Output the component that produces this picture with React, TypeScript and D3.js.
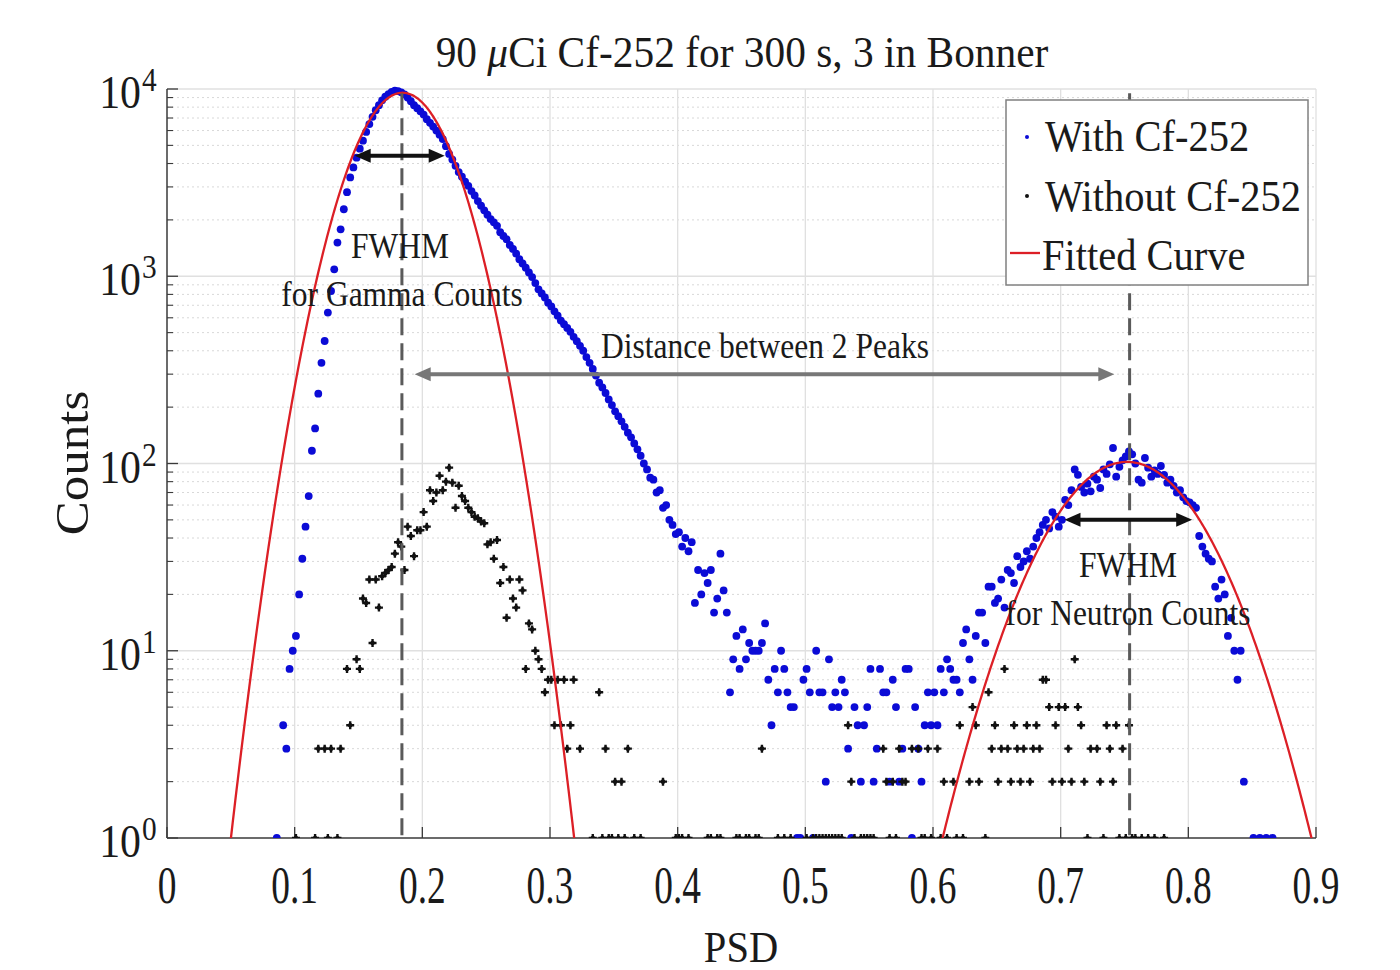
import React from 'react';
import * as d3 from 'd3';

// ---------------- data ----------------
const TITLE_PREFIX = '90 ';
const TITLE_MU = 'μ';
const TITLE_REST = 'Ci Cf-252 for 300 s, 3 in Bonner';
const X_LABEL = 'PSD';
const Y_LABEL = 'Counts';

const X_TICKS = [0, 0.1, 0.2, 0.3, 0.4, 0.5, 0.6, 0.7, 0.8, 0.9];
const X_TICK_LABELS = ['0', '0.1', '0.2', '0.3', '0.4', '0.5', '0.6', '0.7', '0.8', '0.9'];
const Y_TICKS = [1, 10, 100, 1000, 10000];
const Y_TICK_EXPONENTS = ['0', '1', '2', '3', '4'];

// PSD histogram bins: centre = BIN_START + BIN_STEP * binIndex
const BIN_START = 0.001;
const BIN_STEP = 0.0025;

// "With Cf-252" counts, starting at bin 34 (0 = empty bin, not drawn on log axis)
const WITH_CF_FIRST_BIN = 34;
const withCfCounts = [
  1, 0, 4, 3, 8, 10, 12, 20, 31, 46,
  67, 117, 154, 236, 345, 451, 640, 834, 1089, 1513,
  1780, 2279, 2812, 3373, 3813, 4300, 4800, 5300, 5900, 6500,
  7100, 7700, 8200, 8700, 9100, 9400, 9650, 9800, 9750, 9600,
  9350, 9000, 8600, 8200, 7900, 7600, 7300, 6900, 6600, 6300,
  6000, 5700, 5400, 4950, 4500, 4200, 3890, 3600, 3400, 3200,
  3040, 2850, 2700, 2520, 2380, 2250, 2130, 2020, 1940, 1860,
  1720, 1640, 1577, 1470, 1400, 1320, 1233, 1170, 1110, 1047,
  990, 920, 852, 810, 770, 723, 690, 650, 616, 580,
  555, 530, 505, 475, 450, 425, 400, 370, 345, 320,
  295, 270, 255, 238, 220, 205, 190, 179, 168, 157,
  146, 138, 128, 119, 110, 100, 93, 84, 82, 70,
  72, 58, 60, 50, 47, 42, 43, 36, 40, 34,
  38, 18, 27, 20, 26, 23, 27, 16, 19, 33,
  21, 16, 6, 9, 12, 8, 13, 9, 11, 10,
  10, 10, 11, 14, 7, 4, 8, 6, 10, 8,
  6, 5, 5, 1, 1, 7, 8, 6, 1, 10,
  6, 6, 2, 9, 5, 6, 5, 7, 6, 3,
  1, 5, 4, 2, 4, 5, 8, 2, 3, 8,
  6, 6, 2, 7, 5, 2, 3, 8, 8, 1,
  5, 3, 2, 4, 6, 4, 6, 4, 8, 6,
  9, 8, 7, 7, 6, 11, 13, 9, 7, 12,
  16, 16, 11, 22, 22, 18, 19, 24, 17, 27,
  26, 23, 32, 28, 30, 34, 31, 36, 40, 43,
  47, 50, 45, 55, 52, 46, 50, 64, 60, 72,
  93, 87, 75, 70, 78, 71, 85, 82, 74, 93,
  88, 99, 121, 85, 96, 104, 109, 116, 112, 100,
  82, 79, 107, 95, 85, 92, 88, 97, 87, 79,
  82, 76, 70, 72, 66, 63, 62, 60, 58, 41,
  36, 33, 31, 30, 22, 19, 24, 20, 12, 15,
  10, 7, 10, 2, 0, 0, 1, 0, 1, 0,
  1, 0, 1,
];

// "Without Cf-252" counts, starting at bin 40
const WITHOUT_CF_FIRST_BIN = 40;
const withoutCfCounts = [
  1, 0, 0, 0, 0, 0, 1, 3, 0, 3,
  1, 3, 0, 1, 3, 0, 8, 4, 0, 9,
  8, 19, 18, 24, 11, 24, 17, 25, 26, 27,
  28, 33, 38, 36, 27, 46, 41, 32, 44, 44,
  55, 46, 72, 63, 70, 86, 72, 80, 95, 79,
  58, 76, 67, 63, 58, 55, 52, 51, 49, 48,
  37, 38, 31, 39, 23, 28, 15, 24, 19, 17,
  24, 21, 8, 14, 13, 10, 9, 8, 6, 7,
  7, 4, 7, 4, 7, 3, 4, 7, 0, 3,
  0, 0, 0, 1, 0, 6, 1, 3, 1, 1,
  2, 1, 2, 1, 3, 0, 1, 0, 1, 0,
  0, 0, 0, 0, 0, 2, 0, 0, 0, 1,
  1, 1, 0, 1, 0, 0, 0, 0, 0, 1,
  1, 0, 1, 1, 0, 0, 0, 0, 1, 1,
  0, 1, 1, 0, 1, 1, 3, 0, 0, 0,
  0, 1, 0, 1, 0, 1, 0, 0, 0, 0,
  1, 0, 1, 1, 1, 1, 1, 1, 1, 1,
  1, 1, 0, 4, 2, 1, 0, 1, 1, 1,
  1, 1, 0, 0, 3, 2, 1, 2, 1, 3,
  2, 2, 0, 3, 0, 3, 1, 1, 3, 1,
  0, 3, 1, 2, 1, 0, 2, 1, 4, 1,
  0, 2, 5, 4, 2, 0, 1, 6, 3, 4,
  2, 3, 8, 3, 2, 4, 3, 2, 3, 4,
  2, 3, 4, 3, 7, 7, 5, 2, 4, 5,
  2, 5, 3, 2, 9, 5, 4, 2, 1, 3,
  0, 3, 2, 1, 4, 3, 2, 4, 1, 3,
  1, 4, 1, 1, 0, 1, 0, 1, 0, 1,
  0, 0, 1,
];

// Gaussian fits (fitted curve): amplitude, mean, sigma
const FIT_AMPLITUDES = [9550, 102];
const FIT_MEANS = [0.1845, 0.752];
const FIT_SIGMAS = [0.0314, 0.0475];

// annotations (data coordinates)
const PEAK_LINES_PSD = [0.184, 0.754];
const PEAK_LINE_TOP = 9500;
const GAMMA_FWHM = { from: 0.147, to: 0.2175, count: 4400 };
const NEUTRON_FWHM = { from: 0.703, to: 0.803, count: 50 };
const PEAK_DISTANCE = { from: 0.194, to: 0.742, count: 300 };

const LEGEND_LABELS = ['With Cf-252', 'Without Cf-252', 'Fitted Curve'];

// ---------------- drawing ----------------
const W = 1400;
const H = 970;
const PL = 167;
const PR = 1316;
const PT = 89;
const PB = 838;

const FONT = "'Liberation Serif','Times New Roman',Times,serif";
const BLUE = '#0b0bd6';
const RED = '#dc1f26';
const TEXT = '#1a1a1a';

const x = d3.scaleLinear().domain([0, 0.9]).range([PL, PR]);
const y = d3.scaleLog().domain([1, 10000]).range([PB, PT]);

function ST(props: any) {
  const { x: tx, y: ty, fs, sx = 0.9, anchor = 'middle', fill = TEXT, rotate, children } = props;
  const tr = `translate(${tx},${ty}) scale(${sx},1)` + (rotate ? ` rotate(${rotate})` : '');
  return (
    <text transform={tr} fontSize={fs} textAnchor={anchor} fontFamily={FONT} fill={fill}>
      {children}
    </text>
  );
}

function Arrow(props: any) {
  const { x1, x2, yy, color, width = 4, head = 16, hw = 7 } = props;
  return (
    <g>
      <line x1={x1 + head - 2} x2={x2 - head + 2} y1={yy} y2={yy} stroke={color} strokeWidth={width} />
      <polygon points={`${x1},${yy} ${x1 + head},${yy - hw} ${x1 + head},${yy + hw}`} fill={color} />
      <polygon points={`${x2},${yy} ${x2 - head},${yy - hw} ${x2 - head},${yy + hw}`} fill={color} />
    </g>
  );
}

function toPoints(first: number, counts: number[]) {
  const pts: { psd: number; c: number }[] = [];
  counts.forEach((c, i) => {
    if (c > 0) pts.push({ psd: BIN_START + BIN_STEP * (first + i), c });
  });
  return pts;
}

export default function App() {
  const bluePts = toPoints(WITH_CF_FIRST_BIN, withCfCounts);
  const blackPts = toPoints(WITHOUT_CF_FIRST_BIN, withoutCfCounts);

  const fitPaths = FIT_AMPLITUDES.map((amp, i) => {
    const mu = FIT_MEANS[i];
    const s = FIT_SIGMAS[i];
    const xs = d3.range(mu - 0.17, mu + 0.17, 0.001);
    const line = d3
      .line<number>()
      .x((p) => x(p))
      .y((p) => y(Math.max(0.3, amp * Math.exp(-((p - mu) ** 2) / (2 * s * s)))));
    return line(xs) as string;
  });

  const minorY: number[] = [];
  [1, 10, 100, 1000].forEach((d) => {
    for (let m = 2; m <= 9; m++) minorY.push(d * m);
  });

  return (
    <svg width={W} height={H} style={{ position: 'absolute', left: 0, top: 0, background: '#fff' }}>
      <defs>
        <clipPath id="plotClip">
          <rect x={PL} y={PT - 6} width={PR - PL} height={PB - PT + 6} />
        </clipPath>
      </defs>
      <rect x={0} y={0} width={W} height={H} fill="#fff" />

      {/* grid */}
      {minorY.map((v) => (
        <line key={'my' + v} x1={PL} x2={PR} y1={y(v)} y2={y(v)} stroke="#d8d8d8" strokeWidth={1} strokeDasharray="2 3" />
      ))}
      {Y_TICKS.slice(1).map((v) => (
        <line key={'gy' + v} x1={PL} x2={PR} y1={y(v)} y2={y(v)} stroke="#e0e0e0" strokeWidth={1.3} />
      ))}
      {X_TICKS.slice(1).map((v) => (
        <line key={'gx' + v} x1={x(v)} x2={x(v)} y1={PT} y2={PB} stroke="#e0e0e0" strokeWidth={1.3} />
      ))}

      {/* axes */}
      <line x1={PL} x2={PL} y1={PT} y2={PB} stroke="#3a3a3a" strokeWidth={1.5} />
      <line x1={PL} x2={PR} y1={PB} y2={PB} stroke="#3a3a3a" strokeWidth={1.5} />
      {Y_TICKS.map((v) => (
        <line key={'ty' + v} x1={PL} x2={PL + 11} y1={y(v)} y2={y(v)} stroke="#3a3a3a" strokeWidth={1.3} />
      ))}
      {minorY.map((v) => (
        <line key={'tmy' + v} x1={PL} x2={PL + 6} y1={y(v)} y2={y(v)} stroke="#3a3a3a" strokeWidth={1.1} />
      ))}
      {X_TICKS.map((v) => (
        <line key={'tx' + v} x1={x(v)} x2={x(v)} y1={PB} y2={PB - 11} stroke="#3a3a3a" strokeWidth={1.3} />
      ))}

      {/* tick labels */}
      {X_TICKS.map((v, i) => (
        <ST key={'lx' + v} x={x(v)} y={903} fs={52} sx={0.72}>
          {X_TICK_LABELS[i]}
        </ST>
      ))}
      {Y_TICKS.map((v, i) => (
        <g key={'ly' + v}>
          <ST x={141} y={y(v) + 19} fs={47} sx={0.89} anchor="end">
            10
          </ST>
          <ST x={142} y={y(v) + 2} fs={33} sx={0.89} anchor="start">
            {Y_TICK_EXPONENTS[i]}
          </ST>
        </g>
      ))}

      {/* axis labels and title */}
      <ST x={741} y={962} fs={45} sx={0.9}>
        {X_LABEL}
      </ST>
      <ST x={88} y={463} fs={51} sx={0.9} rotate={-90}>
        {Y_LABEL}
      </ST>
      <text transform={`translate(742,67) scale(0.92,1)`} fontSize={45} textAnchor="middle" fontFamily={FONT} fill={TEXT}>
        {TITLE_PREFIX}
        <tspan fontStyle="italic">{TITLE_MU}</tspan>
        {TITLE_REST}
      </text>

      {/* data */}
      <g clipPath="url(#plotClip)">
        {bluePts.map((p, i) => (
          <circle key={'b' + i} cx={x(p.psd)} cy={y(p.c)} r={3.9} fill={BLUE} />
        ))}
        {blackPts.map((p, i) => (
          <g key={'k' + i} transform={`translate(${x(p.psd)},${y(p.c)})`}>
            <path d="M-4,0H4M0,-4V4" stroke="#111" strokeWidth={2.4} />
            <circle r={2.3} fill="#111" />
          </g>
        ))}
        {fitPaths.map((d, i) => (
          <path key={'f' + i} d={d} fill="none" stroke={RED} strokeWidth={2.3} />
        ))}
      </g>

      {/* annotations */}
      {PEAK_LINES_PSD.map((p) => (
        <line key={'pl' + p} x1={x(p)} x2={x(p)} y1={y(PEAK_LINE_TOP)} y2={PB} stroke="#5a5a5a" strokeWidth={3} strokeDasharray="17 8" />
      ))}
      <Arrow x1={x(GAMMA_FWHM.from)} x2={x(GAMMA_FWHM.to)} yy={y(GAMMA_FWHM.count)} color="#111" />
      <Arrow x1={x(NEUTRON_FWHM.from)} x2={x(NEUTRON_FWHM.to)} yy={y(NEUTRON_FWHM.count)} color="#111" />
      <Arrow x1={x(PEAK_DISTANCE.from)} x2={x(PEAK_DISTANCE.to)} yy={y(PEAK_DISTANCE.count)} color="#777" />

      <ST x={400} y={258} fs={35}>FWHM</ST>
      <ST x={402} y={306} fs={35}>for Gamma Counts</ST>
      <ST x={765} y={358} fs={35}>Distance between 2 Peaks</ST>
      <ST x={1128} y={577} fs={35}>FWHM</ST>
      <ST x={1128} y={625} fs={35}>for Neutron Counts</ST>

      {/* legend */}
      <rect x={1006} y={100} width={302} height={185} fill="#fff" stroke="#808080" strokeWidth={1.5} />
      <circle cx={1027} cy={137} r={2} fill={BLUE} />
      <circle cx={1027} cy={196} r={2} fill="#111" />
      <line x1={1010} x2={1040} y1={253} y2={253} stroke={RED} strokeWidth={2.3} />
      <ST x={1045} y={151} fs={45} anchor="start">{LEGEND_LABELS[0]}</ST>
      <ST x={1045} y={211} fs={45} anchor="start">{LEGEND_LABELS[1]}</ST>
      <ST x={1042} y={270} fs={45} anchor="start">{LEGEND_LABELS[2]}</ST>
    </svg>
  );
}
